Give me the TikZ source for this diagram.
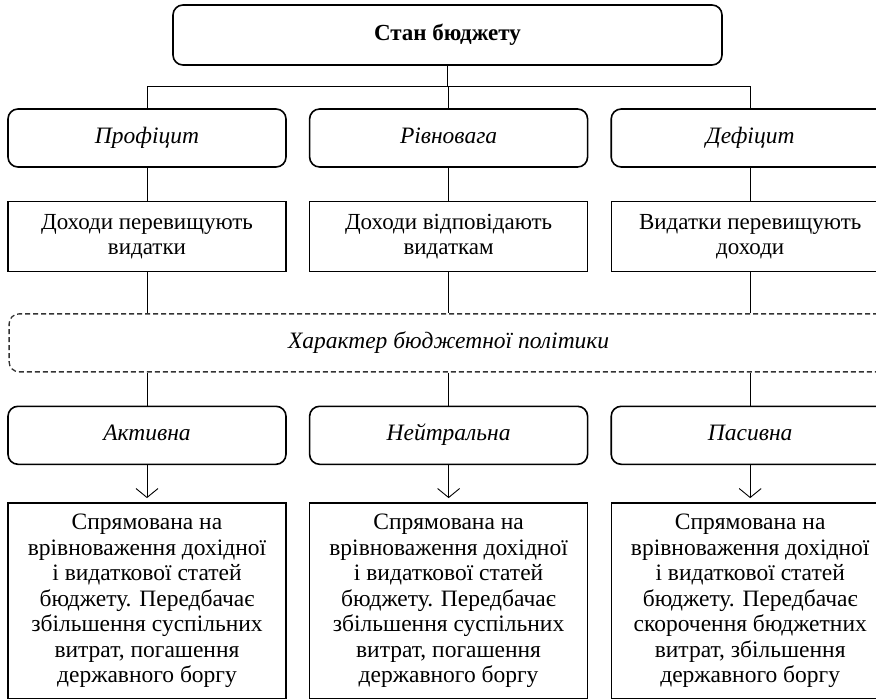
\documentclass[tikz,border=0pt]{standalone}
\usepackage{fontspec}
\setmainfont{Liberation Serif}
\usetikzlibrary{positioning,arrows.meta}

\begin{document}
\begin{tikzpicture}[x=1pt,y=-1pt,font=\fontsize{23.5}{25.5}\selectfont,
  head/.style={draw,rounded corners=10pt,line width=1.6pt,minimum width=549pt,minimum height=60pt,font=\fontsize{23}{25.5}\selectfont\bfseries},
  kind/.style={draw,rounded corners=10pt,line width=1.6pt,minimum width=278pt,minimum height=58pt,text height=16pt,text depth=5pt,font=\fontsize{23.5}{25.5}\selectfont\itshape},
  note/.style={draw,rectangle,line width=1.4pt,minimum width=278pt,align=center,inner sep=2pt},
  policy/.style={draw=black!80,dashed,dash pattern=on 5pt off 3pt,rounded corners=10pt,line width=1.3pt,minimum width=879pt,minimum height=58pt,font=\fontsize{23.5}{25.5}\selectfont\itshape},
  link/.style={draw=black,line width=0.9pt},
  arrow/.style={link,-{Straight Barb[length=9pt,width=22pt]},shorten >=4pt}]
  \useasboundingbox (0,0) rectangle (876,699);
  \clip (0,0) rectangle (876,699);

  \node[head] (stan) at (447.5,35) {Стан бюджету};

  \node[kind] (prof) at (147,138) {Профіцит};
  \node[kind,right=22pt of prof] (rivn) {Рівновага};
  \node[kind,right=22pt of rivn] (def) {Дефіцит};

  \node[note,minimum height=70pt,below=33pt of prof,font=\fontsize{23}{25}\selectfont] (dprof) {Доходи перевищують\\видатки};
  \node[note,minimum height=70pt,below=33pt of rivn,font=\fontsize{23}{25}\selectfont] (drivn) {Доходи відповідають\\видаткам};
  \node[note,minimum height=70pt,below=33pt of def,font=\fontsize{23}{25}\selectfont] (ddef) {Видатки перевищують\\доходи};

  \node[policy,below=41pt of drivn] (kharakter) {Характер бюджетної політики};

  \node[kind,below=33pt of kharakter] (neit) {Нейтральна};
  \node[kind,left=22pt of neit] (akt) {Активна};
  \node[kind,right=22pt of neit] (pas) {Пасивна};

  \node[note,minimum height=196pt,below=37pt of akt] (takt) {Спрямована на\\врівноваження дохідної\\і видаткової статей\\бюджету. Передбачає\\збільшення суспільних\\витрат, погашення\\державного боргу};
  \node[note,minimum height=196pt,below=37pt of neit] (tneit) {Спрямована на\\врівноваження дохідної\\і видаткової статей\\бюджету. Передбачає\\збільшення суспільних\\витрат, погашення\\державного боргу};
  \node[note,minimum height=196pt,below=37pt of pas] (tpas) {Спрямована на\\врівноваження дохідної\\і видаткової статей\\бюджету. Передбачає\\скорочення бюджетних\\витрат, збільшення\\державного боргу};

  \coordinate (bus) at (0,86);
  \draw[link] (stan.south) -- (stan.south |- bus);
  \draw[link] (prof.north) -- (prof.north |- bus) -- (def.north |- bus) -- (def.north);
  \draw[link] (rivn.north |- bus) -- (rivn.north);
  \foreach \a/\b in {prof/dprof,rivn/drivn,def/ddef}
    \draw[link] (\a) -- (\b);
  \foreach \a in {dprof,drivn,ddef}
    \draw[link] (\a.south) -- (\a.south |- kharakter.north);
  \foreach \a in {akt,neit,pas}
    \draw[link] (\a.north |- kharakter.south) -- (\a.north);
  \foreach \a/\b in {akt/takt,neit/tneit,pas/tpas}
    \draw[arrow] (\a) -- (\b);
\end{tikzpicture}
\end{document}
